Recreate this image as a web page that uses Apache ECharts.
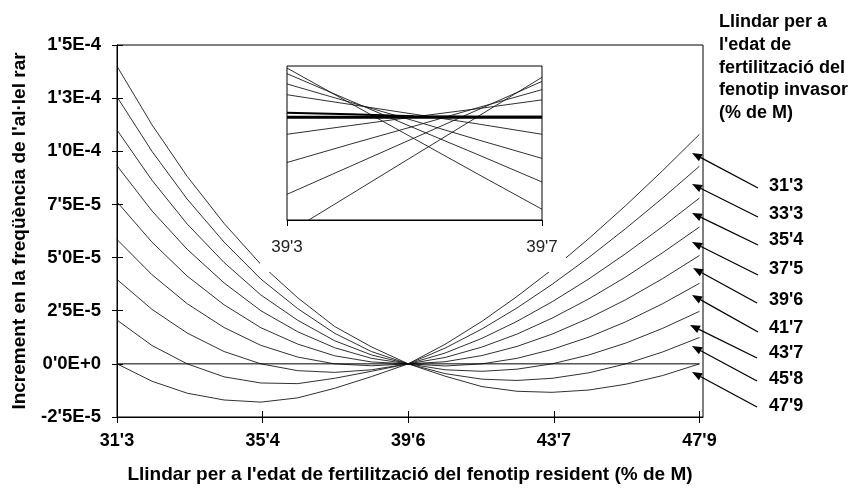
<!DOCTYPE html>
<html>
<head>
<meta charset="utf-8">
<script src="https://cdn.jsdelivr.net/npm/echarts@6/dist/echarts.min.js"></script>
<style>
  html, body { margin: 0; padding: 0; background: #ffffff; }
  #chart { width: 857px; height: 489px; }
</style>
</head>
<body>
<div id="chart"></div>
<script>
// Resident fertilization-age thresholds (% of M) along the x axis
const residentThresholds = [31.3, 32.3, 33.3, 34.35, 35.4, 36.45, 37.5, 38.55, 39.6,
                            40.65, 41.7, 42.7, 43.7, 44.75, 45.8, 46.85, 47.9];

// Invader thresholds, one curve per value
const invaderLabels = ["31'3", "33'3", "35'4", "37'5", "39'6", "41'7", "43'7", "45'8", "47'9"];

// Increment in the rare-allele frequency (units of 1e-5), one array per invader threshold
const inc_31_3 = [0, -0.82, -1.38, -1.70, -1.80, -1.60, -1.15, -0.60, 0, 0.92, 2.00, 3.17, 4.44, 5.90, 7.45, 9.09, 10.80];
const inc_33_3 = [2.06, 0.86, 0, -0.61, -0.90, -0.93, -0.68, -0.35, 0, 0.74, 1.64, 2.63, 3.74, 5.01, 6.37, 7.80, 9.30];
const inc_35_4 = [3.97, 2.56, 1.45, 0.58, 0, -0.32, -0.40, -0.28, 0, 0.51, 1.20, 2.00, 2.92, 4.00, 5.19, 6.46, 7.80];
const inc_37_5 = [5.85, 4.19, 2.83, 1.71, 0.87, 0.32, 0, -0.09, 0, 0.30, 0.79, 1.40, 2.15, 3.06, 4.09, 5.23, 6.44];
const inc_39_6 = [7.62, 5.72, 4.13, 2.78, 1.70, 0.93, 0.38, 0.09, 0, 0.10, 0.39, 0.82, 1.40, 2.15, 3.02, 4.01, 5.10];
const inc_41_7 = [9.32, 7.19, 5.39, 3.81, 2.50, 1.51, 0.76, 0.26, 0, -0.10, 0, 0.26, 0.68, 1.26, 1.98, 2.83, 3.79];
const inc_43_7 = [11.00, 8.63, 6.58, 4.77, 3.24, 2.05, 1.09, 0.42, 0, -0.28, -0.35, -0.25, 0, 0.42, 0.98, 1.67, 2.47];
const inc_45_8 = [12.56, 9.99, 7.75, 5.73, 3.99, 2.60, 1.44, 0.58, 0, -0.46, -0.72, -0.78, -0.68, -0.42, 0, 0.56, 1.24];
const inc_47_9 = [14.00, 11.24, 8.82, 6.61, 4.68, 3.11, 1.76, 0.80, 0, -0.58, -1.07, -1.29, -1.34, -1.23, -0.96, -0.55, 0];

// Axis ticks and their labels
const xTickValues = [31.3, 35.45, 39.6, 43.75, 47.9];
const xTickLabels = ["31'3", "35'4", "39'6", "43'7", "47'9"];
const yTickLabels = ["-2'5E-5", "0'0E+0", "2'5E-5", "5'0E-5", "7'5E-5", "1'0E-4", "1'3E-4", "1'5E-4"];

// Close-up around the crossing point (units of 1e-6)
const insetX = [39.3, 39.4, 39.5, 39.6, 39.7];
const insetTickValues = [39.3, 39.7];
const insetTickLabels = ["39'3", "39'7"];
const ins_31_3 = [-2.26, -1.50, -0.74, 0.02, 0.78];
const ins_33_3 = [-1.50, -0.95, -0.40, 0.15, 0.70];
const ins_35_4 = [-0.88, -0.52, -0.17, 0.19, 0.54];
const ins_37_5 = [-0.33, -0.16, 0.01, 0.17, 0.34];
const ins_39_6 = [0.09, 0.06, 0.02, 0.01, 0.01];
const ins_41_7 = [0.44, 0.25, 0.06, -0.13, -0.33];
const ins_43_7 = [0.65, 0.29, -0.07, -0.44, -0.80];
const ins_45_8 = [0.85, 0.32, -0.21, -0.73, -1.26];
const ins_47_9 = [0.96, 0.27, -0.42, -1.11, -1.79];
const ins_zero = [0, 0, 0, 0, 0];

const mainCurves = [inc_31_3, inc_33_3, inc_35_4, inc_37_5, inc_39_6, inc_41_7, inc_43_7, inc_45_8, inc_47_9];
const insetCurves = [ins_31_3, ins_33_3, ins_35_4, ins_37_5, ins_41_7, ins_43_7, ins_45_8, ins_47_9];

const FONT = "'Liberation Sans', Arial, Helvetica, sans-serif";
const INK = '#000000';
const CURVE = '#1a1a1a';

const chart = echarts.init(document.getElementById('chart'), null, { renderer: 'canvas' });

function pairs(xs, ys) { return xs.map((x, j) => [x, ys[j]]); }

function labelFor(values, labels) {
  return function (v) {
    for (let k = 0; k < values.length; k++) {
      if (Math.abs(values[k] - v) < 1e-6) return labels[k];
    }
    return '';
  };
}

const series = [];
mainCurves.forEach((vals, k) => {
  series.push({
    name: invaderLabels[k], type: 'line', xAxisIndex: 0, yAxisIndex: 0,
    data: pairs(residentThresholds, vals), symbol: 'none', z: 2,
    lineStyle: { color: CURVE, width: 0.9 }, silent: true, animation: false
  });
});
// zero reference line across the plot
series.push({
  type: 'line', xAxisIndex: 0, yAxisIndex: 0, symbol: 'none', z: 2,
  data: [[residentThresholds[0], 0], [residentThresholds[residentThresholds.length - 1], 0]],
  lineStyle: { color: INK, width: 1 }, silent: true, animation: false
});
// inset curves
insetCurves.forEach((vals) => {
  series.push({
    type: 'line', xAxisIndex: 2, yAxisIndex: 2, symbol: 'none', z: 12,
    data: pairs(insetX, vals), clip: true,
    lineStyle: { color: CURVE, width: 0.9 }, silent: true, animation: false
  });
});
series.push({
  type: 'line', xAxisIndex: 2, yAxisIndex: 2, symbol: 'none', z: 12, clip: true,
  data: pairs(insetX, ins_39_6), lineStyle: { color: INK, width: 2 }, silent: true, animation: false
});
series.push({
  type: 'line', xAxisIndex: 2, yAxisIndex: 2, symbol: 'none', z: 12, clip: true,
  data: pairs(insetX, ins_zero), lineStyle: { color: INK, width: 3 }, silent: true, animation: false
});

// Legend labels and arrows at the right
const layoutLabelX = 769;
const layoutLabelY = [186.5, 214, 240.5, 269.5, 300.5, 328.5, 353.5, 379.5, 406];
const arrowTails = [[758, 188], [758, 217], [758, 245], [758, 275], [757, 303], [758, 332], [757, 358], [757, 381], [757, 407]];
const arrowTips = [[692, 153], [692, 184], [692, 213], [692, 242], [693, 268], [692, 295], [690, 325], [692, 346], [692, 372]];
const titleLines = ['Llindar per a', "l'edat de", 'fertilització del', 'fenotip invasor', '(% de M)'];

const graphics = [];
// white panel behind the inset
graphics.push({
  type: 'rect', z: 5, silent: true,
  shape: { x: 260, y: 56, width: 306, height: 216 },
  style: { fill: '#ffffff' }
});
invaderLabels.forEach((lab, k) => {
  graphics.push({
    type: 'text', z: 20, silent: true, x: layoutLabelX, y: layoutLabelY[k],
    style: { text: lab, font: 'bold 18px ' + FONT, fill: INK, textVerticalAlign: 'middle', verticalAlign: 'middle' }
  });
  const [tx, ty] = arrowTails[k];
  const [hx, hy] = arrowTips[k];
  const dx = hx - tx, dy = hy - ty, len = Math.hypot(dx, dy);
  const ux = dx / len, uy = dy / len;
  const headL = 10, headW = 4;
  const bx = hx - ux * headL, by = hy - uy * headL;
  graphics.push({
    type: 'line', z: 20, silent: true,
    shape: { x1: tx, y1: ty, x2: bx, y2: by },
    style: { stroke: INK, lineWidth: 1.3 }
  });
  graphics.push({
    type: 'polygon', z: 20, silent: true,
    shape: { points: [[hx, hy], [bx - uy * headW, by + ux * headW], [bx + uy * headW, by - ux * headW]] },
    style: { fill: INK }
  });
});
titleLines.forEach((t, k) => {
  graphics.push({
    type: 'text', z: 20, silent: true, x: 719, y: 22 + k * 22.8,
    style: { text: t, font: 'bold 18px ' + FONT, fill: INK, textVerticalAlign: 'middle', verticalAlign: 'middle' }
  });
});

const option = {
  backgroundColor: '#ffffff',
  animation: false,
  grid: [
    { left: 117, right: 154, top: 45, bottom: 71, show: true, borderColor: INK, borderWidth: 1, backgroundColor: 'transparent', z: 1 },
    { left: 287, top: 66, width: 255, height: 154, show: true, borderColor: INK, borderWidth: 1, backgroundColor: 'transparent', z: 12 }
  ],
  xAxis: [
    {
      type: 'value', gridIndex: 0, min: 31.3, max: 48.0, position: 'bottom',
      axisLine: { show: true, onZero: false, lineStyle: { color: INK, width: 1 } },
      axisTick: { show: true, customValues: xTickValues, length: 6, lineStyle: { color: INK, width: 1 } },
      axisLabel: { show: true, customValues: xTickValues, formatter: labelFor(xTickValues, xTickLabels),
        margin: 15, color: INK, fontFamily: FONT, fontWeight: 'bold', fontSize: 18 },
      splitLine: { show: false },
      name: "Llindar per a l'edat de fertilització del fenotip resident (% de M)",
      nameLocation: 'middle', nameGap: 48,
      nameTextStyle: { color: INK, fontFamily: FONT, fontWeight: 'bold', fontSize: 19 }
    },
    {
      type: 'value', gridIndex: 0, min: 31.3, max: 48.0, position: 'bottom',
      axisLine: { show: false, onZero: false },
      axisTick: { show: true, inside: true, customValues: xTickValues, length: 6, lineStyle: { color: INK, width: 1 } },
      axisLabel: { show: false }, splitLine: { show: false }
    },
    {
      type: 'value', gridIndex: 1, min: 39.3, max: 39.7, position: 'bottom', z: 12,
      axisLine: { show: true, onZero: false, lineStyle: { color: INK, width: 1 } },
      axisTick: { show: true, customValues: insetTickValues, length: 6, lineStyle: { color: INK, width: 1 } },
      axisLabel: { show: true, customValues: insetTickValues, formatter: labelFor(insetTickValues, insetTickLabels),
        margin: 19, color: '#222222', fontFamily: FONT, fontSize: 17 },
      splitLine: { show: false }
    }
  ],
  yAxis: [
    {
      type: 'value', gridIndex: 0, min: -2.5, max: 15, interval: 2.5, position: 'left',
      axisLine: { show: true, onZero: false, lineStyle: { color: INK, width: 1 } },
      axisTick: { show: true, length: 5, lineStyle: { color: INK, width: 1 } },
      axisLabel: { show: true, margin: 16, color: INK, fontFamily: FONT, fontWeight: 'bold', fontSize: 18.5,
        formatter: (v) => yTickLabels[Math.round((v + 2.5) / 2.5)] },
      splitLine: { show: false },
      name: "Increment en la freqüència de l'al·lel rar",
      nameLocation: 'middle', nameGap: 88,
      nameTextStyle: { color: INK, fontFamily: FONT, fontWeight: 'bold', fontSize: 19 }
    },
    {
      type: 'value', gridIndex: 0, min: -2.5, max: 15, interval: 2.5, position: 'left',
      axisLine: { show: false, onZero: false },
      axisTick: { show: true, inside: true, length: 6, lineStyle: { color: INK, width: 1 } },
      axisLabel: { show: false }, splitLine: { show: false }
    },
    {
      type: 'value', gridIndex: 1, min: -2, max: 1, show: false, z: 12
    }
  ],
  series: series,
  graphic: { elements: graphics }
};

chart.setOption(option);
</script>
</body>
</html>
